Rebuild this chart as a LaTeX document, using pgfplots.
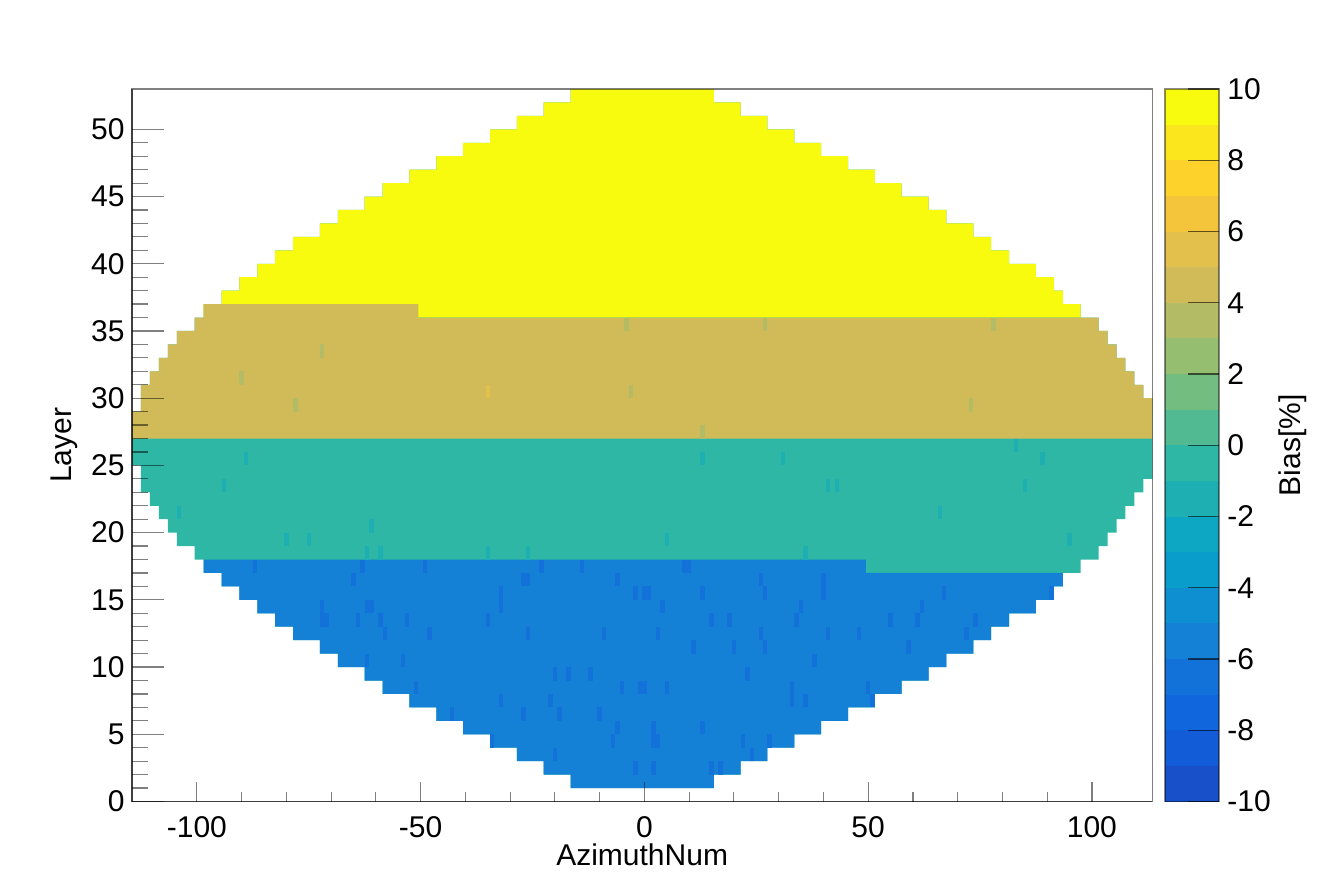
\documentclass[border=0pt]{standalone}
\usepackage{fontspec}
\setmainfont{Liberation Sans}
\usepackage{pgfplots}
\pgfplotsset{compat=1.18}

\definecolor{k0}{RGB}{24,80,202}
\definecolor{k1}{RGB}{18,92,215}
\definecolor{k2}{RGB}{16,102,220}
\definecolor{k3}{RGB}{18,114,217}
\definecolor{k4}{RGB}{20,129,214}
\definecolor{k5}{RGB}{14,143,209}
\definecolor{k6}{RGB}{9,157,204}
\definecolor{k7}{RGB}{13,167,195}
\definecolor{k8}{RGB}{30,175,179}
\definecolor{k9}{RGB}{46,183,164}
\definecolor{k10}{RGB}{82,186,146}
\definecolor{k11}{RGB}{116,189,129}
\definecolor{k12}{RGB}{149,190,113}
\definecolor{k13}{RGB}{179,188,101}
\definecolor{k14}{RGB}{209,187,89}
\definecolor{k15}{RGB}{226,192,75}
\definecolor{k16}{RGB}{244,197,59}
\definecolor{k17}{RGB}{253,210,43}
\definecolor{k18}{RGB}{251,230,29}
\definecolor{k19}{RGB}{249,251,14}

\pgfdeclareplotmark{cell}{%
  \pgfpathrectangle{\pgfpoint{-1.1188pt}{-3.3609pt}}{\pgfpoint{2.2375pt}{6.7217pt}}%
  \pgfusepathqfill}

\newcommand{\lab}{\fontsize{15}{18}\selectfont}

\begin{document}
\lab
\begin{tikzpicture}
\useasboundingbox (0,0) rectangle (658.5pt,445.5pt);
% ---------------- main histogram ----------------
\begin{axis}[
  at={(66pt,44.75pt)}, anchor=south west, scale only axis,
  width=510.15pt, height=356.25pt,
  xmin=-114.5, xmax=113.5, ymin=0, ymax=53,
  axis on top,
  xtick=\empty,
  ytick={0,5,...,50},
  yticklabels={0,5,10,15,20,25,30,35,40,45,50},
  minor y tick num=4, ytick pos=left, tick align=inside,
  major tick length=16pt, minor tick length=8pt,
  tick style={black, opacity=0.5, line width=0.6pt},
  axis line style={black, opacity=0.5, line width=0.7pt},
  every tick label/.append style={font=\lab},
  yticklabel style={xshift=1.5pt},
  ylabel={Layer},
  every axis y label/.style={at={(axis description cs:-0.0588,0.5)}, rotate=90, anchor=base, font=\lab},
]
% full outline (teal base)
\addplot[draw=none, fill=k9] coordinates {
(-16.5,1) (-16.5,2) (-22.5,2) (-22.5,3) (-28.5,3) (-28.5,4) (-34.5,4) (-34.5,5) (-40.5,5) (-40.5,6) (-46.5,6) (-46.5,7) (-52.5,7) (-52.5,8) (-58.5,8) (-58.5,9) (-62.5,9) (-62.5,10) (-68.5,10) (-68.5,11) (-72.5,11) (-72.5,12) (-78.5,12) (-78.5,13) (-82.5,13) (-82.5,14) (-86.5,14) (-86.5,15) (-90.5,15) (-90.5,16) (-94.5,16) (-94.5,17) (-98.5,17) (-98.5,18) (-100.5,18) (-100.5,19) (-104.5,19) (-104.5,20) (-106.5,20) (-106.5,21) (-108.5,21) (-108.5,22) (-110.5,22) (-110.5,23) (-112.5,23) (-112.5,25) (-114.5,25) (-114.5,29) (-112.5,29) (-112.5,31) (-110.5,31) (-110.5,32) (-108.5,32) (-108.5,33) (-106.5,33) (-106.5,34) (-104.5,34) (-104.5,35) (-100.5,35) (-100.5,36) (-98.5,36) (-98.5,37) (-94.5,37) (-94.5,38) (-90.5,38) (-90.5,39) (-86.5,39) (-86.5,40) (-82.5,40) (-82.5,41) (-78.5,41) (-78.5,42) (-72.5,42) (-72.5,43) (-68.5,43) (-68.5,44) (-62.5,44) (-62.5,45) (-58.5,45) (-58.5,46) (-52.5,46) (-52.5,47) (-46.5,47) (-46.5,48) (-40.5,48) (-40.5,49) (-34.5,49) (-34.5,50) (-28.5,50) (-28.5,51) (-22.5,51) (-22.5,52) (-16.5,52) (-16.5,53) (15.5,53) (15.5,52) (21.5,52) (21.5,51) (27.5,51) (27.5,50) (33.5,50) (33.5,49) (39.5,49) (39.5,48) (45.5,48) (45.5,47) (51.5,47) (51.5,46) (57.5,46) (57.5,45) (63.5,45) (63.5,44) (67.5,44) (67.5,43) (73.5,43) (73.5,42) (77.5,42) (77.5,41) (81.5,41) (81.5,40) (87.5,40) (87.5,39) (91.5,39) (91.5,38) (93.5,38) (93.5,37) (97.5,37) (97.5,36) (101.5,36) (101.5,35) (103.5,35) (103.5,34) (105.5,34) (105.5,33) (107.5,33) (107.5,32) (109.5,32) (109.5,31) (111.5,31) (111.5,30) (113.5,30) (113.5,24) (111.5,24) (111.5,23) (109.5,23) (109.5,22) (107.5,22) (107.5,21) (105.5,21) (105.5,20) (103.5,20) (103.5,19) (101.5,19) (101.5,18) (97.5,18) (97.5,17) (93.5,17) (93.5,16) (91.5,16) (91.5,15) (87.5,15) (87.5,14) (81.5,14) (81.5,13) (77.5,13) (77.5,12) (73.5,12) (73.5,11) (67.5,11) (67.5,10) (63.5,10) (63.5,9) (57.5,9) (57.5,8) (51.5,8) (51.5,7) (45.5,7) (45.5,6) (39.5,6) (39.5,5) (33.5,5) (33.5,4) (27.5,4) (27.5,3) (21.5,3) (21.5,2) (15.5,2) (15.5,1)
};
% yellow: layers 36-52
\addplot[draw=none, fill=k19] coordinates {
(-98.5,36) (-98.5,37) (-94.5,37) (-94.5,38) (-90.5,38) (-90.5,39) (-86.5,39) (-86.5,40) (-82.5,40) (-82.5,41) (-78.5,41) (-78.5,42) (-72.5,42) (-72.5,43) (-68.5,43) (-68.5,44) (-62.5,44) (-62.5,45) (-58.5,45) (-58.5,46) (-52.5,46) (-52.5,47) (-46.5,47) (-46.5,48) (-40.5,48) (-40.5,49) (-34.5,49) (-34.5,50) (-28.5,50) (-28.5,51) (-22.5,51) (-22.5,52) (-16.5,52) (-16.5,53) (15.5,53) (15.5,52) (21.5,52) (21.5,51) (27.5,51) (27.5,50) (33.5,50) (33.5,49) (39.5,49) (39.5,48) (45.5,48) (45.5,47) (51.5,47) (51.5,46) (57.5,46) (57.5,45) (63.5,45) (63.5,44) (67.5,44) (67.5,43) (73.5,43) (73.5,42) (77.5,42) (77.5,41) (81.5,41) (81.5,40) (87.5,40) (87.5,39) (91.5,39) (91.5,38) (93.5,38) (93.5,37) (97.5,37) (97.5,36)
};
% tan: layers 27-35 and left part of 36
\addplot[draw=none, fill=k14] coordinates {
(-50.5,37) (-98.5,37) (-98.5,36) (-100.5,36) (-100.5,35) (-104.5,35) (-104.5,34) (-106.5,34) (-106.5,33) (-108.5,33) (-108.5,32) (-110.5,32) (-110.5,31) (-112.5,31) (-112.5,29) (-114.5,29) (-114.5,27) (113.5,27) (113.5,30) (111.5,30) (111.5,31) (109.5,31) (109.5,32) (107.5,32) (107.5,33) (105.5,33) (105.5,34) (103.5,34) (103.5,35) (101.5,35) (101.5,36) (-50.5,36)
};
% blue: layers 1-16 and left part of 17
\addplot[draw=none, fill=k4] coordinates {
(-16.5,1) (-16.5,2) (-22.5,2) (-22.5,3) (-28.5,3) (-28.5,4) (-34.5,4) (-34.5,5) (-40.5,5) (-40.5,6) (-46.5,6) (-46.5,7) (-52.5,7) (-52.5,8) (-58.5,8) (-58.5,9) (-62.5,9) (-62.5,10) (-68.5,10) (-68.5,11) (-72.5,11) (-72.5,12) (-78.5,12) (-78.5,13) (-82.5,13) (-82.5,14) (-86.5,14) (-86.5,15) (-90.5,15) (-90.5,16) (-94.5,16) (-94.5,17) (-98.5,17) (-98.5,18) (49.5,18) (49.5,17) (93.5,17) (93.5,16) (91.5,16) (91.5,15) (87.5,15) (87.5,14) (81.5,14) (81.5,13) (77.5,13) (77.5,12) (73.5,12) (73.5,11) (67.5,11) (67.5,10) (63.5,10) (63.5,9) (57.5,9) (57.5,8) (51.5,8) (51.5,7) (45.5,7) (45.5,6) (39.5,6) (39.5,5) (33.5,5) (33.5,4) (27.5,4) (27.5,3) (21.5,3) (21.5,2) (15.5,2) (15.5,1)
};
% single cells
\addplot[only marks, mark=cell, color=k13] coordinates {
(-4,35.5) (27,35.5) (78,35.5) (-72,33.5) (-90,31.5) (-78,29.5) (-3,30.5) (13,27.5) (73,29.5)
};
\addplot[only marks, mark=cell, color=k15] coordinates {(-35,30.5)};
\addplot[only marks, mark=cell, color=k8] coordinates {
(-89,25.5) (-94,23.5) (-104,21.5) (-61,20.5) (-80,19.5) (-75,19.5) (-62,18.5) (-59,18.5)
(-35,18.5) (-26,18.5) (36,18.5) (13,25.5) (5,19.5) (83,26.5) (31,25.5) (89,25.5)
(41,23.5) (43,23.5) (85,23.5) (66,21.5) (95,19.5)
};
\addplot[only marks, mark=cell, color=k3] coordinates {
(-87,17.5) (-63,17.5) (-49,17.5) (-23,17.5) (-14,17.5) (9,17.5) (10,17.5)
(-65,16.5) (-27,16.5) (-26,16.5) (-6,16.5) (26,16.5) (40,16.5)
(-32,15.5) (-2,15.5) (0,15.5) (1,15.5) (13,15.5) (27,15.5) (40,15.5) (67,15.5) (91,15.5)
(-72,14.5) (-62,14.5) (-61,14.5) (-32,14.5) (4,14.5) (35,14.5) (62,14.5)
(-72,13.5) (-71,13.5) (-64,13.5) (-59,13.5) (-53,13.5) (-35,13.5) (15,13.5) (19,13.5) (34,13.5) (55,13.5) (61,13.5) (74,13.5)
(-58,12.5) (-48,12.5) (-26,12.5) (-9,12.5) (3,12.5) (26,12.5) (41,12.5) (48,12.5) (72,12.5)
(11,11.5) (20,11.5) (27,11.5) (59,11.5)
(-62,10.5) (-54,10.5) (38,10.5)
(-20,9.5) (-17,9.5) (-12,9.5) (23,9.5)
(-51,8.5) (-5,8.5) (-1,8.5) (0,8.5) (5,8.5) (33,8.5) (50,8.5)
(-32,7.5) (-21,7.5) (33,7.5) (36,7.5) (51,7.5)
(-43,6.5) (-27,6.5) (-19,6.5) (-10,6.5)
(-6,5.5) (2,5.5) (13,5.5)
(-34,4.5) (-7,4.5) (2,4.5) (3,4.5) (22,4.5) (28,4.5)
(-20,3.5) (24,3.5)
(-2,2.5) (2,2.5) (15,2.5) (17,2.5)
};
\end{axis}
% ---------------- x axis / dark left+bottom lines ----------------
\begin{axis}[
  at={(66pt,44.75pt)}, anchor=south west, scale only axis,
  width=510.15pt, height=356.25pt,
  xmin=-114.5, xmax=113.5, ymin=0, ymax=53,
  axis x line*=bottom, axis y line*=left,
  ytick=\empty,
  xtick={-100,-50,0,50,100},
  xticklabels={-100,-50,0,50,100},
  minor x tick num=4, tick align=inside,
  major tick length=10pt, minor tick length=5pt,
  tick style={black, opacity=0.5, line width=0.6pt},
  axis line style={black, opacity=0.5, line width=0.7pt},
  every tick label/.append style={font=\lab},
  xticklabel style={inner sep=0pt, yshift=-7.5pt},
  xlabel={AzimuthNum},
  every axis x label/.style={at={(axis description cs:0.5,0)}, anchor=base, inner sep=0pt, yshift=-32pt, font=\lab},
]
\end{axis}
% ---------------- colour bar ----------------
\begin{axis}[
  at={(582.5pt,44.75pt)}, anchor=south west, scale only axis,
  width=27pt, height=356.25pt,
  xmin=0, xmax=1, ymin=-10, ymax=10,
  axis on top,
  xtick=\empty,
  ytick={-10,-8,...,10},
  yticklabels={-10,-8,-6,-4,-2,0,2,4,6,8,10},
  ytick pos=right, yticklabel pos=right, tick align=inside,
  major tick length=15.5pt,
  tick style={black, opacity=0.6, line width=0.6pt},
  axis line style={black, opacity=0.45, line width=0.6pt},
  every tick label/.append style={font=\lab},
  yticklabel style={xshift=-1pt},
  ylabel={Bias[\%]},
  every axis y label/.style={at={(axis description cs:2.509,0.5)}, rotate=90, anchor=base, font=\lab},
]
\addplot[draw=none, fill=k0] coordinates {(0,-10) (1,-10) (1,-8.97) (0,-8.97)};
\addplot[draw=none, fill=k1] coordinates {(0,-9) (1,-9) (1,-7.97) (0,-7.97)};
\addplot[draw=none, fill=k2] coordinates {(0,-8) (1,-8) (1,-6.97) (0,-6.97)};
\addplot[draw=none, fill=k3] coordinates {(0,-7) (1,-7) (1,-5.97) (0,-5.97)};
\addplot[draw=none, fill=k4] coordinates {(0,-6) (1,-6) (1,-4.97) (0,-4.97)};
\addplot[draw=none, fill=k5] coordinates {(0,-5) (1,-5) (1,-3.97) (0,-3.97)};
\addplot[draw=none, fill=k6] coordinates {(0,-4) (1,-4) (1,-2.97) (0,-2.97)};
\addplot[draw=none, fill=k7] coordinates {(0,-3) (1,-3) (1,-1.97) (0,-1.97)};
\addplot[draw=none, fill=k8] coordinates {(0,-2) (1,-2) (1,-0.97) (0,-0.97)};
\addplot[draw=none, fill=k9] coordinates {(0,-1) (1,-1) (1,0.03) (0,0.03)};
\addplot[draw=none, fill=k10] coordinates {(0,0) (1,0) (1,1.03) (0,1.03)};
\addplot[draw=none, fill=k11] coordinates {(0,1) (1,1) (1,2.03) (0,2.03)};
\addplot[draw=none, fill=k12] coordinates {(0,2) (1,2) (1,3.03) (0,3.03)};
\addplot[draw=none, fill=k13] coordinates {(0,3) (1,3) (1,4.03) (0,4.03)};
\addplot[draw=none, fill=k14] coordinates {(0,4) (1,4) (1,5.03) (0,5.03)};
\addplot[draw=none, fill=k15] coordinates {(0,5) (1,5) (1,6.03) (0,6.03)};
\addplot[draw=none, fill=k16] coordinates {(0,6) (1,6) (1,7.03) (0,7.03)};
\addplot[draw=none, fill=k17] coordinates {(0,7) (1,7) (1,8.03) (0,8.03)};
\addplot[draw=none, fill=k18] coordinates {(0,8) (1,8) (1,9.03) (0,9.03)};
\addplot[draw=none, fill=k19] coordinates {(0,9) (1,9) (1,10) (0,10)};
\end{axis}
\end{tikzpicture}
\end{document}
